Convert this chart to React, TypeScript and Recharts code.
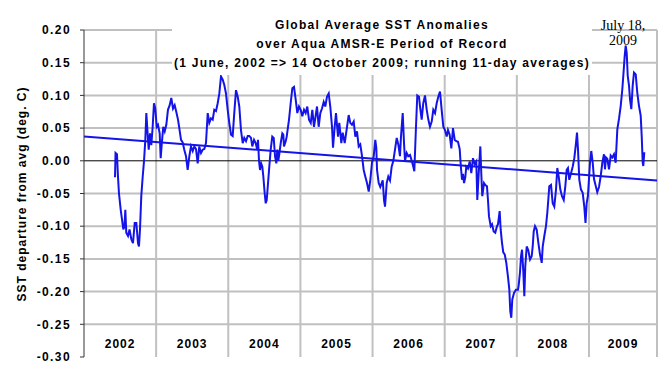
import React from 'react';
import {
  LineChart,
  Line,
  XAxis,
  YAxis,
  ReferenceLine
} from 'recharts';

// Running 11-day global SST anomalies (deg. C).
// Each year: fraction of the year for every reading, and the anomaly there.
const FRAC_2002 = [.430, .437, .457, .471, .485, .509, .527, .545, .561, .573, .586, .610, .631, .656, .679, .703, .725, .749, .762, .776, .794, .814, .832, .850, .864, .877, .897, .915, .933, .952, .970, .988];
const SST_2002 = [-0.025, 0.012, 0.010, -0.024, -0.050, -0.075, -0.090, -0.105, -0.100, -0.075, -0.110, -0.115, -0.105, -0.120, -0.126, -0.095, -0.095, -0.126, -0.131, -0.105, -0.054, -0.024, 0.000, 0.032, 0.073, 0.050, 0.017, 0.042, 0.024, 0.052, 0.088, 0.080];

const FRAC_2003 = [.008, .026, .049, .063, .081, .099, .119, .141, .164, .188, .210, .234, .257, .279, .303, .321, .345, .368, .390, .414, .437, .460, .483, .507, .529, .553, .576, .598, .622, .645, .668, .691, .715, .737, .760, .784, .806, .830, .853, .876, .899, .923, .945, .968, .992];
const SST_2003 = [0.052, 0.055, 0.042, 0.004, 0.030, 0.052, 0.045, 0.055, 0.078, 0.085, 0.096, 0.080, 0.085, 0.075, 0.063, 0.050, 0.032, 0.028, 0.017, 0.007, -0.014, 0.007, 0.022, 0.015, 0.022, 0.018, -0.004, 0.022, 0.012, 0.017, 0.018, 0.027, 0.073, 0.058, 0.065, 0.063, 0.078, 0.076, 0.088, 0.103, 0.129, 0.124, 0.116, 0.103, 0.078];

const FRAC_2004 = [.014, .038, .061, .083, .107, .131, .153, .176, .200, .222, .246, .269, .291, .315, .333, .357, .380, .402, .412, .426, .440, .456, .472, .486, .505, .519, .533, .547, .565, .588, .610, .630, .648, .666, .680, .693, .707, .727, .749, .763, .772, .796, .810, .828, .842, .865, .888, .911, .935, .957, .980];
const SST_2004 = [0.058, 0.040, 0.038, 0.073, 0.108, 0.098, 0.083, 0.047, 0.027, 0.035, 0.030, 0.038, 0.038, 0.035, 0.022, 0.032, 0.027, 0.017, 0.032, 0.000, -0.014, -0.004, -0.009, -0.024, -0.050, -0.065, -0.060, -0.040, -0.014, 0.017, 0.037, 0.035, 0.007, -0.004, 0.017, 0.000, 0.010, 0.027, 0.042, 0.040, 0.022, 0.030, 0.037, 0.052, 0.063, 0.088, 0.111, 0.113, 0.093, 0.073, 0.083];

const FRAC_2005 = [.004, .026, .050, .073, .095, .119, .143, .165, .188, .206, .230, .253, .276, .299, .323, .345, .368, .392, .414, .438, .452, .475, .493, .521, .539, .567, .586, .614, .646, .669, .691, .715, .739, .761, .784, .808, .830, .854, .877, .899, .923, .947, .969, .992];
const SST_2005 = [0.078, 0.068, 0.078, 0.073, 0.083, 0.063, 0.058, 0.078, 0.052, 0.065, 0.083, 0.052, 0.073, 0.080, 0.090, 0.083, 0.098, 0.103, 0.083, 0.052, 0.020, 0.052, 0.073, 0.037, 0.058, 0.027, 0.043, 0.027, 0.052, 0.070, 0.058, 0.055, 0.060, 0.037, 0.045, 0.022, 0.025, 0.007, -0.014, -0.024, -0.034, -0.047, -0.029, -0.003];

const FRAC_2006 = [.016, .038, .052, .062, .085, .107, .141, .159, .173, .196, .218, .242, .265, .288, .311, .335, .357, .380, .394, .418, .436, .450, .473, .495, .519, .543, .565, .579, .602, .620, .644, .658, .681, .703, .727, .751, .773, .796, .820, .842, .866, .889, .911, .935, .958, .981];
const SST_2006 = [0.007, 0.032, 0.020, -0.014, -0.034, -0.040, -0.030, -0.060, -0.070, -0.034, -0.024, -0.030, -0.009, 0.000, 0.017, 0.035, 0.025, 0.007, 0.037, 0.073, 0.027, 0.000, 0.012, 0.007, 0.009, 0.000, -0.009, -0.016, 0.052, 0.100, 0.098, 0.083, 0.063, 0.088, 0.100, 0.078, 0.063, 0.052, 0.060, 0.078, 0.073, 0.088, 0.098, 0.106, 0.078, 0.052];

const FRAC_2007 = [.004, .028, .046, .069, .092, .115, .139, .161, .184, .208, .222, .240, .254, .268, .286, .299, .323, .347, .369, .392, .416, .438, .452, .471, .494, .507, .521, .545, .563, .586, .600, .614, .638, .656, .679, .701, .725, .739, .762, .776, .794, .812, .832, .854, .877, .896, .909, .923, .937, .961, .988];
const SST_2007 = [0.047, 0.037, 0.047, 0.040, 0.019, 0.050, 0.032, 0.030, 0.029, 0.018, -0.006, -0.029, -0.020, -0.034, -0.025, -0.009, -0.012, -0.001, -0.019, 0.004, -0.005, -0.001, -0.060, -0.020, 0.022, -0.019, -0.054, -0.034, -0.037, -0.039, -0.060, -0.085, -0.100, -0.097, -0.108, -0.110, -0.100, -0.097, -0.077, -0.105, -0.125, -0.140, -0.143, -0.156, -0.177, -0.197, -0.230, -0.240, -0.212, -0.202, -0.197];

const FRAC_2008 = [.016, .026, .044, .058, .072, .090, .104, .117, .137, .159, .183, .206, .220, .234, .252, .275, .298, .321, .345, .359, .381, .404, .422, .436, .450, .474, .497, .519, .543, .561, .580, .603, .626, .650, .672, .691, .709, .727, .751, .774, .797, .820, .834, .848, .866, .889, .913, .935, .952, .968, .986];
const SST_2008 = [-0.197, -0.190, -0.170, -0.146, -0.136, -0.170, -0.207, -0.161, -0.131, -0.137, -0.151, -0.146, -0.131, -0.108, -0.100, -0.105, -0.125, -0.143, -0.156, -0.131, -0.115, -0.100, -0.080, -0.060, -0.039, -0.037, -0.065, -0.070, -0.044, -0.011, -0.024, -0.044, -0.054, -0.060, -0.039, -0.014, -0.011, -0.029, -0.019, -0.009, 0.004, 0.027, 0.043, 0.017, -0.029, -0.044, -0.049, -0.070, -0.095, -0.065, -0.053];

const FRAC_2009 = [.000, .014, .032, .052, .070, .093, .115, .139, .163, .185, .208, .222, .236, .254, .278, .301, .323, .347, .370, .393, .416, .440, .462, .476, .495, .509, .523, .537, .555, .569, .587, .606, .624, .648, .670, .693, .717, .731, .745, .753, .767];
const SST_2009 = [-0.028, -0.003, 0.015, -0.003, -0.028, -0.038, -0.048, -0.040, -0.023, -0.003, 0.010, -0.013, 0.005, 0.003, -0.013, 0.008, 0.005, 0.010, -0.003, 0.048, 0.064, 0.084, 0.109, 0.130, 0.160, 0.176, 0.165, 0.130, 0.115, 0.094, 0.079, 0.115, 0.135, 0.132, 0.104, 0.084, 0.069, 0.038, -0.003, -0.008, 0.013];

const YEARS = [2002, 2003, 2004, 2005, 2006, 2007, 2008, 2009];
const FRACS = [FRAC_2002, FRAC_2003, FRAC_2004, FRAC_2005, FRAC_2006, FRAC_2007, FRAC_2008, FRAC_2009];
const VALUES = [SST_2002, SST_2003, SST_2004, SST_2005, SST_2006, SST_2007, SST_2008, SST_2009];

// x axis runs from 1 Jan 2002 to early December 2009
const AXIS_END = 2009.943;
// linear trend over the record, value at each end of the axis
const TREND_START = 0.037;
const TREND_END = -0.030;

const Y_TICKS = [0.2, 0.15, 0.1, 0.05, 0, -0.05, -0.1, -0.15, -0.2, -0.25, -0.3];

const series = YEARS.flatMap((yr, i) =>
  FRACS[i].map((f, j) => ({ t: yr + f, sst: VALUES[i][j] }))
);
const trend = [
  { t: YEARS[0], sst: TREND_START },
  { t: AXIS_END, sst: TREND_END }
];
// year boundaries inside the plot, plus its right edge
const vGrid = [...YEARS.slice(1), AXIS_END];
// gray lines for every tick except 0 (black) and the bottom (axis line)
const hGrid = Y_TICKS.filter((v) => v !== 0 && v !== Y_TICKS[Y_TICKS.length - 1]);
// label for each year sits in the middle of its column
const yearLabels = YEARS.map((yr) => ({ yr, at: (yr + Math.min(yr + 1, AXIS_END)) / 2 }));

const SANS = '"Liberation Sans", Arial, sans-serif';
const SERIF = '"Liberation Serif", "Times New Roman", serif';
const BLUE = '#1414e8';
const GRID = '#c0c0c0';

const yearLabel = (yr: number) => (props: any) => {
  const vb = props.viewBox || {};
  return (
    <text
      x={vb.x}
      y={(vb.y ?? 0) + (vb.height ?? 0) - 9}
      textAnchor="middle"
      fontFamily={SANS}
      fontWeight="bold"
      fontSize={12}
      letterSpacing={1}
      fill="#000"
    >
      {yr}
    </text>
  );
};

export default function App() {
  return (
    <div style={{ position: 'absolute', left: 0, top: 0, width: 672, height: 384, background: '#fff' }}>
      <LineChart width={672} height={384} data={series} margin={{ top: 30, right: 15, bottom: 27, left: 0 }}>
        <XAxis
          dataKey="t"
          type="number"
          domain={[YEARS[0], AXIS_END]}
          ticks={[...YEARS, AXIS_END]}
          tick={false}
          tickLine={false}
          height={0}
          axisLine={{ stroke: GRID, strokeWidth: 2 }}
          allowDataOverflow
        />
        <YAxis
          type="number"
          domain={[-0.3, 0.2]}
          ticks={Y_TICKS}
          width={84}
          tickFormatter={(v: number) => v.toFixed(2)}
          axisLine={{ stroke: '#333' }}
          tickLine={{ stroke: '#333' }}
          tickSize={4}
          tickMargin={9}
          tick={{ fill: '#000', fontSize: 12, fontWeight: 'bold', fontFamily: SANS, letterSpacing: 1.4 }}
          allowDataOverflow
        />
        {hGrid.map((v) => (
          <ReferenceLine key={`h${v}`} y={v} stroke={GRID} strokeWidth={2} />
        ))}
        {vGrid.map((x) => (
          <ReferenceLine key={`v${x}`} x={x} stroke={GRID} strokeWidth={2} />
        ))}
        {yearLabels.map(({ yr, at }) => (
          <ReferenceLine key={`l${yr}`} x={at} stroke="none" label={{ content: yearLabel(yr) }} />
        ))}
        <ReferenceLine y={0} stroke="#000" strokeWidth={1} />
        <Line
          data={trend}
          dataKey="sst"
          type="linear"
          stroke={BLUE}
          strokeWidth={2}
          dot={false}
          isAnimationActive={false}
        />
        <Line
          dataKey="sst"
          type="linear"
          stroke={BLUE}
          strokeWidth={2}
          dot={false}
          isAnimationActive={false}
        />
      </LineChart>

      {/* chart title, on a white box that hides the grid behind it */}
      <div style={{ position: 'absolute', left: 172, top: 12, width: 420, height: 63, background: '#fff' }} />
      <div
        style={{
          position: 'absolute',
          left: 172,
          top: 16,
          width: 420,
          textAlign: 'center',
          fontFamily: SANS,
          fontWeight: 'bold',
          fontSize: 12,
          lineHeight: '19px',
          letterSpacing: 1.3,
          color: '#000'
        }}
      >
        <div>Global Average SST Anomalies</div>
        <div>over Aqua AMSR-E Period of Record</div>
        <div>(1 June, 2002 =&gt; 14 October 2009; running 11-day averages)</div>
      </div>

      {/* peak annotation */}
      <div
        style={{
          position: 'absolute',
          left: 583,
          top: 18,
          width: 80,
          textAlign: 'center',
          fontFamily: SERIF,
          fontSize: 14,
          lineHeight: '15px',
          color: '#000'
        }}
      >
        <div>July 18,</div>
        <div>2009</div>
      </div>

      {/* y axis title */}
      <div
        style={{
          position: 'absolute',
          left: 22 - 150,
          top: 194 - 8,
          width: 300,
          height: 16,
          lineHeight: '16px',
          textAlign: 'center',
          transform: 'rotate(-90deg)',
          fontFamily: SANS,
          fontWeight: 'bold',
          fontSize: 12,
          letterSpacing: 1,
          color: '#000'
        }}
      >
        SST departure from avg (deg. C)
      </div>
    </div>
  );
}
